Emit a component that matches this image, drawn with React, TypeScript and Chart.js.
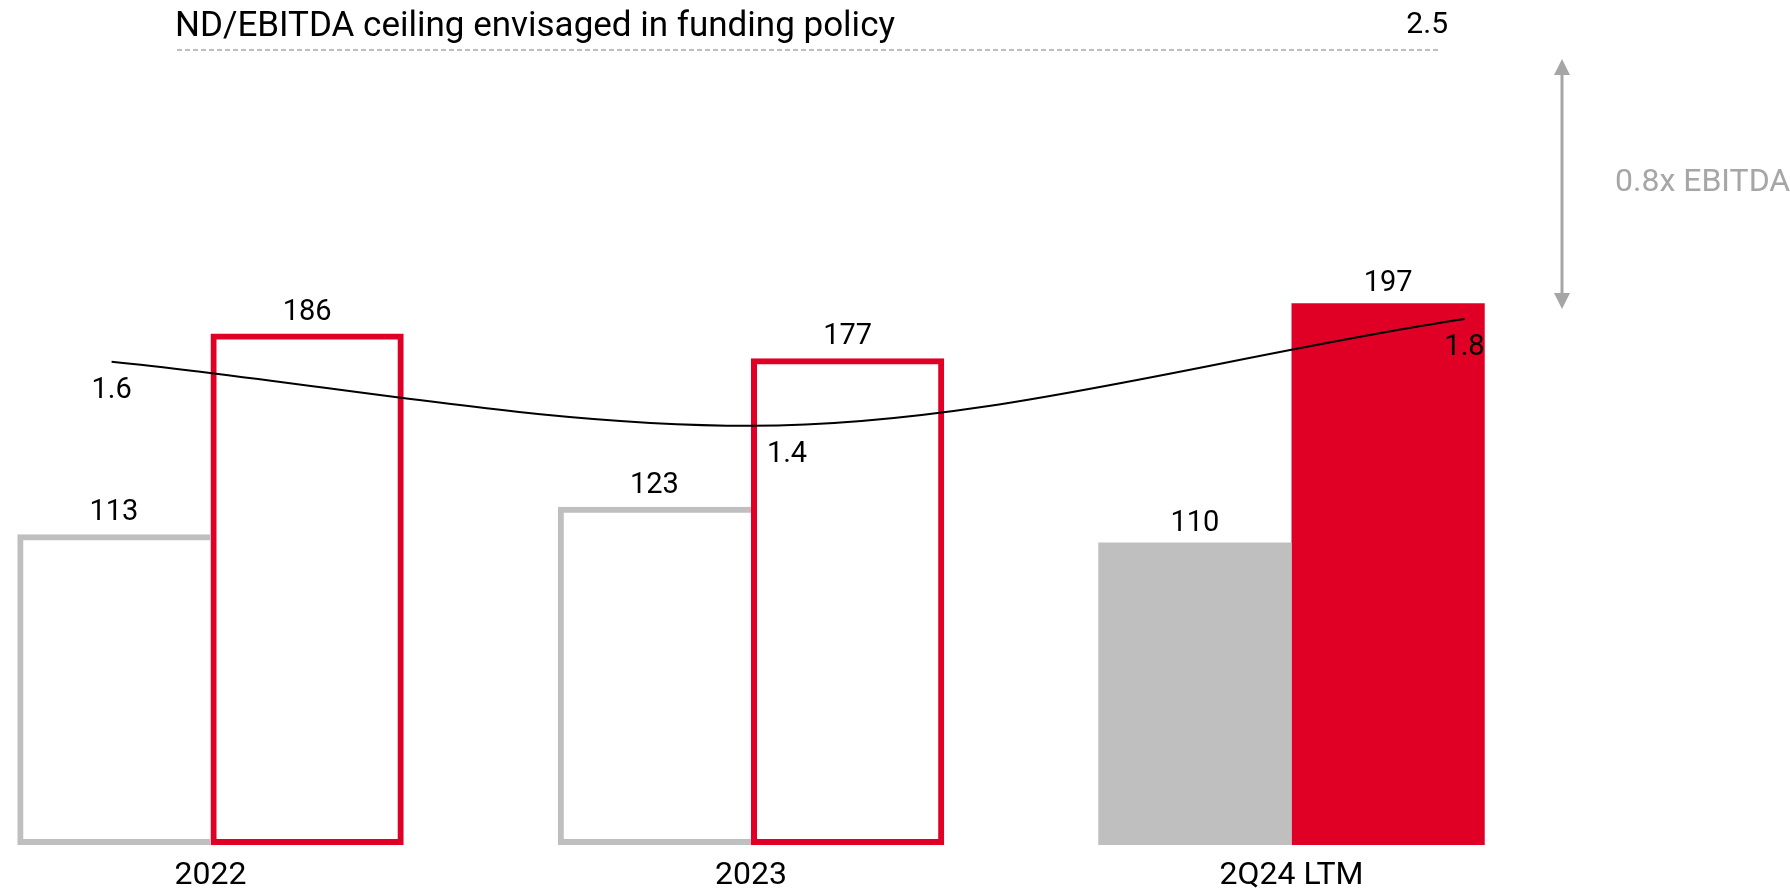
import React, { useEffect, useRef } from 'react';
import { Chart, registerables } from 'chart.js';

Chart.register(...registerables);

// ---- data ----
const categories = ['2022', '2023', '2Q24 LTM'];
const grayValues = [113, 123, 110];
const redValues = [186, 177, 197];
const leverageValues = [1.64, 1.4, 1.8];
const leverageX = [-0.183, 1, 2.32];
const ceilingValue = '2.5';
const ceilingText = 'ND/EBITDA ceiling envisaged in funding policy';
const headroomText = '0.8x EBITDA';

// ---- styles ----
const RED = '#e00025';
const GRAY = '#bfbfbf';
const ARROW_GRAY = '#a6a6a6';
const FONT = 'Roboto, "Open Sans", sans-serif';
const filledBars = [false, false, true];

const annotationPlugin = {
  id: 'annotations',
  afterDatasetsDraw(chart: any) {
    const ctx = chart.ctx as CanvasRenderingContext2D;
    const area = chart.chartArea;
    ctx.save();

    // value labels above bars
    ctx.fillStyle = '#000';
    ctx.font = `29px ${FONT}`;
    ctx.textAlign = 'center';
    ctx.textBaseline = 'alphabetic';
    [0, 1].forEach((di) => {
      const meta = chart.getDatasetMeta(di);
      const values = chart.data.datasets[di].data as number[];
      meta.data.forEach((bar: any, i: number) => {
        const gap = filledBars[i] ? 12 : 14;
        ctx.fillText(String(values[i]), bar.x, bar.y - gap);
      });
    });

    // leverage labels below line points
    const lineMeta = chart.getDatasetMeta(2);
    const dx = [0, 36, 0];
    ctx.textBaseline = 'middle';
    lineMeta.data.forEach((pt: any, i: number) => {
      ctx.fillText(leverageValues[i].toFixed(1), pt.x + dx[i], pt.y + 29);
    });

    // ceiling title + dashed line
    const top = area.top;
    ctx.font = `35px ${FONT}`;
    ctx.textAlign = 'left';
    ctx.fillText(ceilingText, 175, top + 7);
    ctx.font = `30px ${FONT}`;
    ctx.textAlign = 'right';
    ctx.fillText(ceilingValue, 1448, top + 5);

    ctx.strokeStyle = GRAY;
    ctx.lineWidth = 2;
    ctx.setLineDash([5, 3]);
    ctx.beginPath();
    ctx.moveTo(177, top + 30);
    ctx.lineTo(1441, top + 30);
    ctx.stroke();
    ctx.setLineDash([]);

    // headroom arrow
    const ax = 1562;
    const y1 = top + 39;
    const y2 = top + 289;
    const ah = 16;
    const aw = 8;
    ctx.strokeStyle = ARROW_GRAY;
    ctx.fillStyle = ARROW_GRAY;
    ctx.lineWidth = 3;
    ctx.beginPath();
    ctx.moveTo(ax, y1 + ah - 2);
    ctx.lineTo(ax, y2 - ah + 2);
    ctx.stroke();
    ctx.beginPath();
    ctx.moveTo(ax, y1);
    ctx.lineTo(ax - aw, y1 + ah);
    ctx.lineTo(ax + aw, y1 + ah);
    ctx.closePath();
    ctx.fill();
    ctx.beginPath();
    ctx.moveTo(ax, y2);
    ctx.lineTo(ax - aw, y2 - ah);
    ctx.lineTo(ax + aw, y2 - ah);
    ctx.closePath();
    ctx.fill();

    ctx.font = `32px ${FONT}`;
    ctx.textAlign = 'left';
    ctx.fillText(headroomText, 1615, top + 163);

    ctx.restore();
  },
};

export default function App() {
  const ref = useRef<HTMLCanvasElement>(null);

  useEffect(() => {
    document.body.style.margin = '0';
    const canvas = ref.current;
    if (!canvas) return;
    const chart = new Chart(canvas, {
      type: 'bar',
      data: {
        labels: categories,
        datasets: [
          {
            type: 'bar',
            label: 'gray',
            data: grayValues,
            backgroundColor: filledBars.map((f) => (f ? GRAY : 'rgba(255,255,255,0)')),
            borderColor: GRAY,
            borderWidth: filledBars.map((f) => (f ? 0 : 6)),
            borderSkipped: 'right',
            clip: false,
            yAxisID: 'y',
          },
          {
            type: 'bar',
            label: 'red',
            data: redValues,
            backgroundColor: filledBars.map((f) => (f ? RED : 'rgba(255,255,255,0)')),
            borderColor: RED,
            borderWidth: filledBars.map((f) => (f ? 0 : 6)),
            borderSkipped: false,
            clip: false,
            yAxisID: 'y',
          },
          {
            type: 'line',
            label: 'ND/EBITDA',
            parsing: false,
            data: leverageValues.map((v, i) => ({ x: leverageX[i], y: v })),
            borderColor: '#000',
            borderWidth: 2,
            pointRadius: 0,
            cubicInterpolationMode: 'monotone',
            clip: false,
            order: -1,
            yAxisID: 'y2',
          } as any,
        ],
      },
      options: {
        animation: false,
        responsive: false,
        events: [],
        layout: { padding: { left: 210.5, right: 498.5, top: 20, bottom: -17 } },
        plugins: { legend: { display: false }, tooltip: { enabled: false } },
        datasets: { bar: { categoryPercentage: 0.715, barPercentage: 1 } },
        scales: {
          x: {
            type: 'category',
            offset: false,
            grid: { display: false, drawTicks: false, offset: false },
            border: { display: false },
            ticks: {
              color: '#000',
              padding: 15,
              font: { family: FONT, size: 32, lineHeight: 1 },
              maxRotation: 0,
              autoSkip: false,
            },
          },
          y: { type: 'linear', display: false, min: 0, max: 300 },
          y2: { type: 'linear', display: false, min: -0.17, max: 2.92 },
        },
      },
      plugins: [annotationPlugin],
    } as any);
    return () => chart.destroy();
  }, []);

  return (
    <div style={{ position: 'absolute', left: 0, top: 0, width: 1790, height: 890 }}>
      <canvas ref={ref} width={1790} height={890} style={{ display: 'block' }} />
    </div>
  );
}
